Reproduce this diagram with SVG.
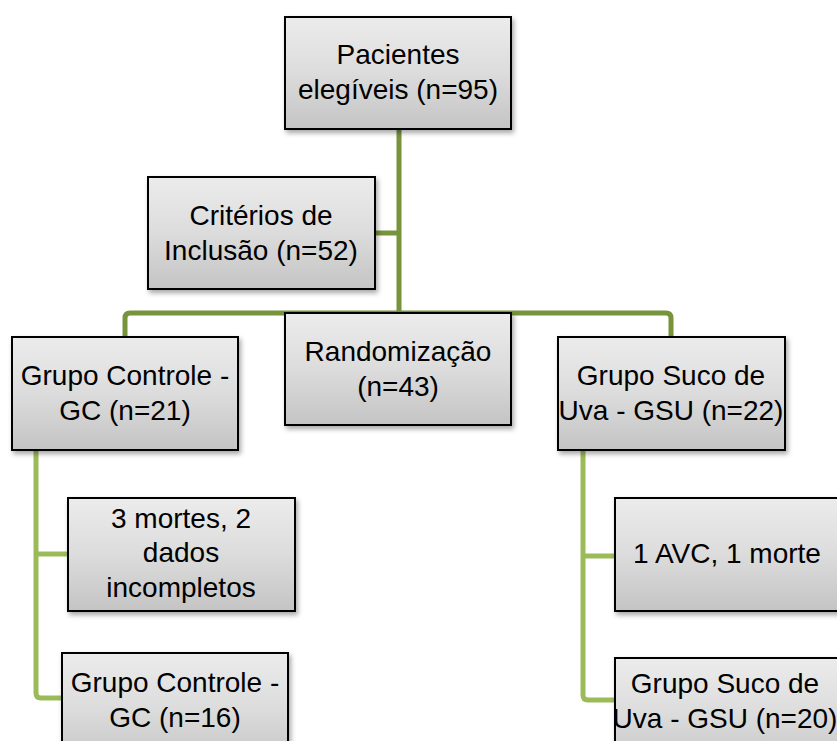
<svg xmlns="http://www.w3.org/2000/svg" width="837" height="741" viewBox="0 0 837 741">
<defs>
<linearGradient id="g" x1="0" y1="0" x2="0" y2="1">
<stop offset="0" stop-color="#ececec"/>
<stop offset="0.5" stop-color="#dcdcdc"/>
<stop offset="1" stop-color="#c4c4c4"/>
</linearGradient>
<filter id="sh" x="-10%" y="-10%" width="125%" height="130%">
<feDropShadow dx="2" dy="3" stdDeviation="2.5" flood-color="#000" flood-opacity="0.35"/>
</filter>
</defs>
<style>
.box{fill:url(#g);stroke:#000;stroke-width:2;filter:url(#sh)}
.t{font-family:"Liberation Sans",Arial,sans-serif;font-size:28px;fill:#000;text-anchor:middle}
.c1{fill:none;stroke:#77933c;stroke-width:5;stroke-linejoin:round}
.c2{fill:none;stroke:#9bbb59;stroke-width:5;stroke-linejoin:round}
</style>
<rect width="837" height="741" fill="#fff"/>
<g id="connectors">
<path class="c1" d="M399 129 V313"/>
<path class="c1" d="M375 233 H399"/>
<path class="c1" d="M125 337 V318 Q125 313 130 313 H666 Q671 313 671 318 V337"/>
<path class="c2" d="M36 450 V693 Q36 698 41 698 H62"/>
<path class="c2" d="M36 554 H68"/>
<path class="c2" d="M583 450 V695 Q583 700 588 700 H615"/>
<path class="c2" d="M583 556 H615"/>
</g>
<g id="n1"><rect class="box" x="285" y="17" width="226" height="112"/>
<text class="t" x="398" y="64">Pacientes</text><text class="t" x="398" y="99">elegíveis (n=95)</text></g>
<g id="n2"><rect class="box" x="148" y="177" width="227" height="112"/>
<text class="t" x="261" y="225">Critérios de</text><text class="t" x="261" y="260">Inclusão (n=52)</text></g>
<g id="n3"><rect class="box" x="285" y="313" width="226" height="112"/>
<text class="t" x="398" y="361">Randomização</text><text class="t" x="398" y="396">(n=43)</text></g>
<g id="n4"><rect class="box" x="12" y="337" width="226" height="113"/>
<text class="t" x="125" y="385">Grupo Controle -</text><text class="t" x="125" y="420">GC (n=21)</text></g>
<g id="n5"><rect class="box" x="558" y="337" width="227" height="113"/>
<text class="t" x="671" y="385">Grupo Suco de</text><text class="t" x="671" y="420">Uva - GSU (n=22)</text></g>
<g id="n6"><rect class="box" x="68" y="498" width="227" height="113"/>
<text class="t" x="181" y="528">3 mortes, 2</text><text class="t" x="181" y="562">dados</text><text class="t" x="181" y="597">incompletos</text></g>
<g id="n7"><rect class="box" x="62" y="653" width="226" height="112"/>
<text class="t" x="175" y="692">Grupo Controle -</text><text class="t" x="175" y="727">GC (n=16)</text></g>
<g id="n8"><rect class="box" x="615" y="498" width="226" height="113"/>
<text class="t" x="727" y="563">1 AVC, 1 morte</text></g>
<g id="n9"><rect class="box" x="615" y="658" width="226" height="112"/>
<text class="t" x="725" y="693">Grupo Suco de</text><text class="t" x="725" y="728">Uva - GSU (n=20)</text></g>
</svg>
